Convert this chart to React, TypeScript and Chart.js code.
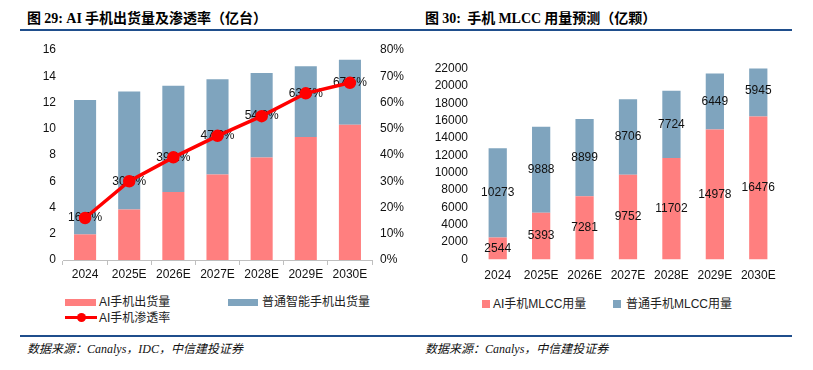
import React, { useEffect, useRef } from "react";
import { Chart, registerables } from "chart.js";

Chart.register(...registerables);

const categories = ["2024", "2025E", "2026E", "2027E", "2028E", "2029E", "2030E"];
// Figure 29 (亿台)
const aiShipments = [1.95, 3.85, 5.19, 6.51, 7.81, 9.37, 10.3];
const normalShipments = [10.25, 8.98, 8.09, 7.26, 6.44, 5.39, 4.96];
const aiPenetration = [0.16, 0.3, 0.391, 0.473, 0.548, 0.635, 0.675];
// Figure 30 (亿颗)
const aiMlcc = [2544, 5393, 7281, 9752, 11702, 14978, 16476];
const normalMlcc = [10273, 9888, 8899, 8706, 7724, 6449, 5945];

const PINK = "#FF7F7F";
const BLUE = "#7FA4BE";
const RED = "#FF0000";
const NAVY = "#1F4E8C";
const TICK_FONT = { family: "'Liberation Sans', Arial, sans-serif", size: 12 };
const CJK = "'Liberation Sans', 'Noto Sans CJK SC', sans-serif";

const lineLabelPlugin = {
  id: "lineLabels",
  beforeDatasetDraw(chart: any, args: any) {
    if (args.index !== 2) return;
    const meta = chart.getDatasetMeta(2);
    const ctx = chart.ctx;
    ctx.save();
    ctx.font = "12px 'Liberation Sans', Arial, sans-serif";
    ctx.fillStyle = "#111";
    ctx.textAlign = "center";
    ctx.textBaseline = "middle";
    meta.data.forEach((pt: any, i: number) => {
      const v = chart.data.datasets[2].data[i] as number;
      ctx.fillText((v * 100).toFixed(1) + "%", pt.x, pt.y);
    });
    ctx.restore();
  },
};

const barLabelPlugin = {
  id: "barLabels",
  afterDatasetsDraw(chart: any) {
    const ctx = chart.ctx;
    ctx.save();
    ctx.font = "12px 'Liberation Sans', Arial, sans-serif";
    ctx.fillStyle = "#111";
    ctx.textAlign = "center";
    ctx.textBaseline = "middle";
    chart.data.datasets.forEach((ds: any, di: number) => {
      const meta = chart.getDatasetMeta(di);
      meta.data.forEach((bar: any, i: number) => {
        const cy = (bar.y + bar.base) / 2;
        ctx.fillText(String(ds.data[i]), bar.x, cy);
      });
    });
    ctx.restore();
  },
};

function LeftChart() {
  const ref = useRef<HTMLCanvasElement>(null);
  useEffect(() => {
    const chart = new Chart(ref.current!, {
      type: "bar",
      data: {
        labels: categories,
        datasets: [
          {
            type: "bar",
            label: "AI手机出货量",
            data: aiShipments,
            backgroundColor: PINK,
            stack: "s",
            yAxisID: "y",
            barPercentage: 0.5,
            categoryPercentage: 1,
            order: 1,
          },
          {
            type: "bar",
            label: "普通智能手机出货量",
            data: normalShipments,
            backgroundColor: BLUE,
            stack: "s",
            yAxisID: "y",
            barPercentage: 0.5,
            categoryPercentage: 1,
            order: 1,
          },
          {
            type: "line",
            label: "AI手机渗透率",
            data: aiPenetration,
            borderColor: RED,
            backgroundColor: RED,
            borderWidth: 3.5,
            pointRadius: 4.5,
            pointBackgroundColor: RED,
            pointBorderColor: RED,
            yAxisID: "y1",
            order: 0,
          } as any,
        ],
      },
      options: {
        animation: false,
        responsive: false,
        layout: { padding: { left: 0, right: 0, top: 20, bottom: 0 } },
        plugins: { legend: { display: false }, tooltip: { enabled: false } },
        scales: {
          x: {
            stacked: true,
            grid: { display: true, drawOnChartArea: false, drawTicks: true, tickLength: 5, color: "#BFBFBF" },
            border: { display: true, color: "#BFBFBF" },
            ticks: { font: TICK_FONT, color: "#111", padding: 2, maxRotation: 0 },
            afterFit: (s: any) => { s.height = 25; },
          },
          y: {
            stacked: true,
            min: 0,
            max: 16,
            ticks: { stepSize: 2, font: TICK_FONT, color: "#111", padding: 7, autoSkip: false },
            grid: { display: false, drawTicks: false },
            border: { display: false },
            afterFit: (s: any) => { s.width = 63; },
          },
          y1: {
            position: "right",
            min: 0,
            max: 0.8,
            ticks: {
              stepSize: 0.1,
              font: TICK_FONT,
              color: "#111",
              padding: 8,
              autoSkip: false,
              callback: (v: any) => Math.round(Number(v) * 100) + "%",
            },
            grid: { display: false, drawTicks: false },
            border: { display: false },
            afterFit: (s: any) => { s.width = 38; },
          },
        },
      },
      plugins: [lineLabelPlugin],
    });
    return () => chart.destroy();
  }, []);
  return <canvas ref={ref} width={410} height={255} style={{ position: "absolute", left: 0, top: 30 }} />;
}

function RightChart() {
  const ref = useRef<HTMLCanvasElement>(null);
  useEffect(() => {
    const chart = new Chart(ref.current!, {
      type: "bar",
      data: {
        labels: categories,
        datasets: [
          {
            label: "AI手机MLCC用量",
            data: aiMlcc,
            backgroundColor: PINK,
            stack: "s",
            barPercentage: 0.42,
            categoryPercentage: 1,
          },
          {
            label: "普通手机MLCC用量",
            data: normalMlcc,
            backgroundColor: BLUE,
            stack: "s",
            barPercentage: 0.42,
            categoryPercentage: 1,
          },
        ],
      },
      options: {
        animation: false,
        responsive: false,
        layout: { padding: { left: 0, right: 30, top: 38.5, bottom: 0 } },
        plugins: { legend: { display: false }, tooltip: { enabled: false } },
        scales: {
          x: {
            stacked: true,
            grid: { display: false, drawTicks: false },
            border: { display: false },
            ticks: { font: TICK_FONT, color: "#111", padding: 9, maxRotation: 0 },
            afterFit: (s: any) => { s.height = 25.5; },
          },
          y: {
            stacked: true,
            min: 0,
            max: 22000,
            ticks: {
              stepSize: 2000,
              font: TICK_FONT,
              color: "#111",
              padding: 8,
              autoSkip: false,
              callback: (v: any) => String(v),
            },
            grid: { display: false, drawTicks: false },
            border: { display: false },
            afterFit: (s: any) => { s.width = 66; },
          },
        },
      },
      plugins: [barLabelPlugin],
    });
    return () => chart.destroy();
  }, []);
  return <canvas ref={ref} width={400} height={255} style={{ position: "absolute", left: 410, top: 30 }} />;
}

const abs = (s: React.CSSProperties): React.CSSProperties => ({ position: "absolute", ...s });

export default function App() {
  const titleStyle: React.CSSProperties = {
    fontFamily: "'Noto Sans CJK SC', sans-serif",
    fontWeight: 700,
    fontSize: 14,
    lineHeight: "16px",
    color: "#000",
    whiteSpace: "nowrap",
  };
  const serif: React.CSSProperties = { fontFamily: "'Liberation Serif', 'Times New Roman', serif", fontWeight: 700 };
  const legendText: React.CSSProperties = {
    fontFamily: CJK,
    fontSize: 12,
    lineHeight: "14px",
    color: "#222",
    whiteSpace: "nowrap",
  };
  const sourceStyle: React.CSSProperties = {
    fontFamily: "'Liberation Serif', 'Noto Sans CJK SC', serif",
    fontStyle: "italic",
    fontSize: 12,
    lineHeight: "14px",
    color: "#111",
    whiteSpace: "nowrap",
  };
  return (
    <div style={{ position: "fixed", left: 0, top: 0, width: 813, height: 370, background: "#fff", overflow: "hidden" }}>
      {/* Left figure */}
      <div style={abs({ left: 27, top: 9, ...titleStyle })}>
        图 <span style={serif}>29: AI</span> 手机出货量及渗透率（亿台）
      </div>
      <div style={abs({ left: 20, top: 29, width: 390, height: 2, background: NAVY })} />
      <LeftChart />
      <div style={abs({ left: 65, top: 299, width: 31, height: 7, background: PINK })} />
      <div style={abs({ left: 99, top: 295, ...legendText })}>AI手机出货量</div>
      <div style={abs({ left: 228, top: 299, width: 30, height: 7, background: BLUE })} />
      <div style={abs({ left: 262, top: 295, ...legendText })}>普通智能手机出货量</div>
      <div style={abs({ left: 65, top: 316, width: 32, height: 3, background: RED })} />
      <div style={abs({ left: 77, top: 313, width: 9, height: 9, borderRadius: 5, background: RED })} />
      <div style={abs({ left: 99, top: 311, ...legendText })}>AI手机渗透率</div>
      <div style={abs({ left: 20, top: 335, width: 390, height: 2, background: NAVY })} />
      <div style={abs({ left: 27, top: 342, ...sourceStyle })}>数据来源：Canalys，IDC，中信建投证券</div>

      {/* Right figure */}
      <div style={abs({ left: 425, top: 9, ...titleStyle })}>
        图 <span style={serif}>30:</span>&nbsp; 手机 <span style={serif}>MLCC</span> 用量预测（亿颗）
      </div>
      <div style={abs({ left: 410, top: 29, width: 382, height: 2, background: NAVY })} />
      <RightChart />
      <div style={abs({ left: 482, top: 300, width: 8, height: 8, background: PINK })} />
      <div style={abs({ left: 493, top: 297, ...legendText })}>AI手机MLCC用量</div>
      <div style={abs({ left: 613, top: 300, width: 8, height: 8, background: BLUE })} />
      <div style={abs({ left: 626, top: 297, ...legendText })}>普通手机MLCC用量</div>
      <div style={abs({ left: 410, top: 335, width: 382, height: 2, background: NAVY })} />
      <div style={abs({ left: 425, top: 342, ...sourceStyle })}>数据来源：Canalys，中信建投证券</div>
    </div>
  );
}
